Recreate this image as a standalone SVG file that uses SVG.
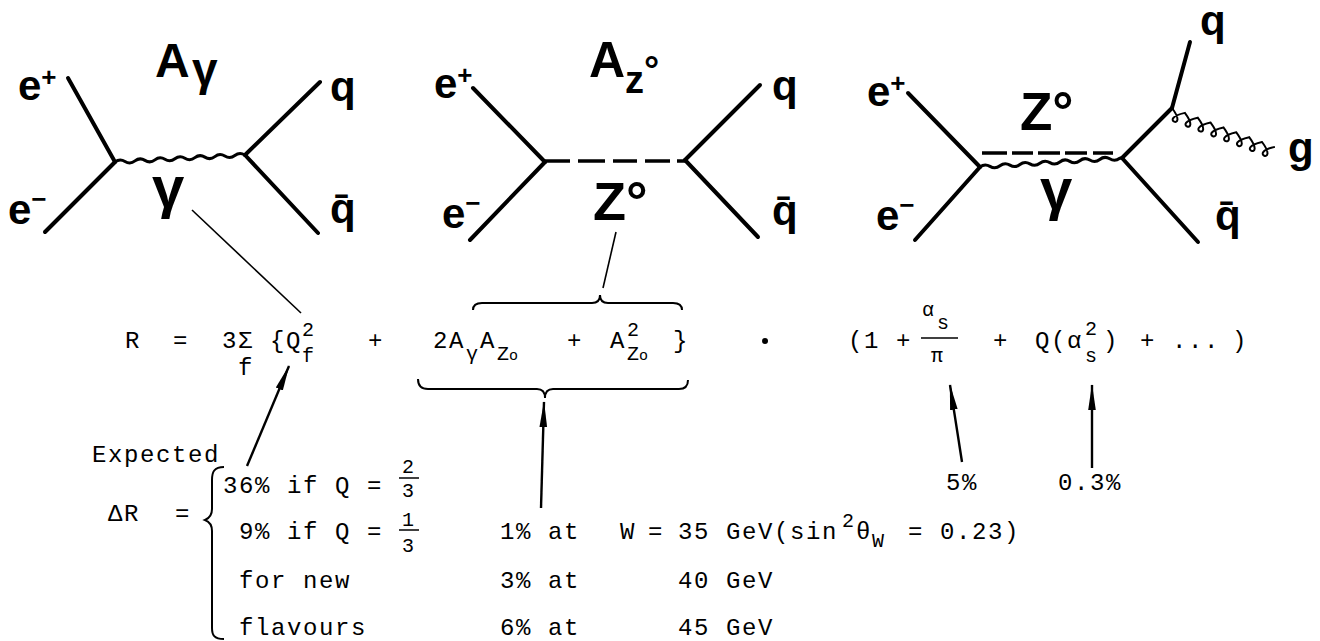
<svg xmlns="http://www.w3.org/2000/svg" width="1320" height="641" viewBox="0 0 1320 641">
<style>
.bg{fill:#fff}
.fl{stroke:#000;stroke-width:4;stroke-linecap:round;fill:none}
.wv{stroke:#000;stroke-width:3;fill:none}
.ds{stroke:#000;stroke-width:3.5;fill:none}
.ld{stroke:#000;stroke-width:1.6;fill:none}
.ar{stroke:#000;stroke-width:2.4;fill:none}
.br{stroke:#000;stroke-width:2;fill:none}
.lb{font-family:"Liberation Sans",Arial,sans-serif;font-weight:bold;fill:#000}
.tt{font-family:"Liberation Mono","Courier New",monospace;font-size:24px;letter-spacing:1.6px;fill:#000}
.sm{font-size:20px;letter-spacing:0}
</style>
<defs>
<marker id="ah" markerUnits="userSpaceOnUse" markerWidth="26" markerHeight="10" refX="25" refY="5" orient="auto">
<path d="M0,1.2 L26,5 L0,8.8 Z" fill="#000"/>
</marker>
</defs>
<rect class="bg" x="0" y="0" width="1320" height="641"/>

<g id="diagram-photon">
<line class="fl" x1="68" y1="78" x2="115" y2="162"/>
<line class="fl" x1="115" y1="162" x2="45" y2="232"/>
<line class="fl" x1="245" y1="155" x2="320" y2="82"/>
<line class="fl" x1="245" y1="155" x2="318" y2="233"/>
<path class="wv" transform="translate(115,162) rotate(-3.1)" d="M0,0 q5,-3.5 10,0 t10,0 t10,0 t10,0 t10,0 t10,0 t10,0 t10,0 t10,0 t10,0 t10,0 t10,0 t10,0"/>
<text class="lb" x="18" y="100" font-size="42">e<tspan font-size="26" dy="-14">+</tspan></text>
<text class="lb" x="8" y="224" font-size="42">e<tspan font-size="26" dy="-16">−</tspan></text>
<text class="lb" x="155" y="77" font-size="48">A</text>
<text class="lb" x="192" y="85" font-size="46">γ</text>
<text class="lb" x="152" y="207" font-size="58">γ</text>
<text class="lb" x="330" y="101" font-size="42">q</text>
<text class="lb" x="330" y="223" font-size="42">q̄</text>
</g>

<g id="diagram-z">
<line class="fl" x1="473" y1="88" x2="545" y2="162"/>
<line class="fl" x1="545" y1="162" x2="470" y2="240"/>
<line class="fl" x1="685" y1="160" x2="760" y2="85"/>
<line class="fl" x1="685" y1="160" x2="758" y2="237"/>
<g class="ds">
<line x1="545" y1="161" x2="570" y2="161"/>
<line x1="578" y1="161" x2="605" y2="161"/>
<line x1="613" y1="161" x2="637" y2="161"/>
<line x1="645" y1="161" x2="670" y2="161"/>
<line x1="677" y1="161" x2="685" y2="161"/>
</g>
<text class="lb" x="434" y="98" font-size="42">e<tspan font-size="26" dy="-14">+</tspan></text>
<text class="lb" x="442" y="228" font-size="42">e<tspan font-size="26" dy="-16">−</tspan></text>
<text class="lb" x="589" y="77" font-size="50">A<tspan font-size="38" dy="16">z</tspan><tspan font-size="38" dy="-10">°</tspan></text>
<text class="lb" x="593" y="220" font-size="54">Z°</text>
<text class="lb" x="772" y="100" font-size="42">q</text>
<text class="lb" x="772" y="225" font-size="42">q̄</text>
</g>

<g id="diagram-gluon">
<line class="fl" x1="908" y1="93" x2="980" y2="167"/>
<line class="fl" x1="980" y1="167" x2="915" y2="240"/>
<line class="fl" x1="1122" y1="158" x2="1172" y2="108"/>
<line class="fl" x1="1172" y1="108" x2="1190" y2="42"/>
<line class="fl" x1="1122" y1="158" x2="1198" y2="242"/>
<g class="ds">
<line x1="982" y1="153" x2="1007" y2="153"/>
<line x1="1012" y1="153" x2="1033" y2="153"/>
<line x1="1038" y1="153" x2="1060" y2="153"/>
<line x1="1065" y1="153" x2="1087" y2="153"/>
<line x1="1093" y1="153" x2="1113" y2="153"/>
</g>
<path class="wv" transform="translate(980,167) rotate(-3.6)" d="M0,0 q5,-3.5 10,0 t10,0 t10,0 t10,0 t10,0 t10,0 t10,0 t10,0 t10,0 t10,0 t10,0 t10,0 t10,0 t10,0 l2,0"/>
<path class="br" stroke-width="2.2" transform="translate(1172,108) rotate(20.7)" d="M0,0 c25,16 -11,16 13.75,0 c25,16 -11,16 13.75,0 c25,16 -11,16 13.75,0 c25,16 -11,16 13.75,0 c25,16 -11,16 13.75,0 c25,16 -11,16 13.75,0 c25,16 -11,16 13.75,0 c25,16 -11,16 13.75,0"/>
<text class="lb" x="867" y="106" font-size="42">e<tspan font-size="26" dy="-14">+</tspan></text>
<text class="lb" x="876" y="230" font-size="42">e<tspan font-size="26" dy="-16">−</tspan></text>
<text class="lb" x="1020" y="130" font-size="53">Z°</text>
<text class="lb" x="1040" y="209" font-size="58">γ</text>
<text class="lb" x="1200" y="35" font-size="42">q</text>
<text class="lb" x="1288" y="162" font-size="42">g</text>
<text class="lb" x="1215" y="230" font-size="42">q̄</text>
</g>

<g id="equation">
<text class="tt" x="125" y="348">R</text>
<text class="tt" x="173" y="348">=</text>
<text class="tt" x="222" y="348">3Σ</text>
<text class="tt" x="238" y="375">f</text>
<text class="tt" x="270" y="348">{Q</text>
<text class="tt sm" x="302" y="336">2</text>
<text class="tt sm" x="302" y="362">f</text>
<text class="tt" x="368" y="348">+</text>
<text class="tt" x="433" y="348">2A</text>
<text class="tt sm" x="466" y="360">γ</text>
<text class="tt" x="480" y="348">A</text>
<text class="tt sm" x="497" y="360">Z<tspan font-size="15">o</tspan></text>
<text class="tt" x="567" y="348">+</text>
<text class="tt" x="610" y="348">A</text>
<text class="tt sm" x="627" y="336">2</text>
<text class="tt sm" x="627" y="360">Z<tspan font-size="15">o</tspan></text>
<text class="tt" x="673" y="348">}</text>
<circle cx="765" cy="341" r="3" fill="#000"/>
<text class="tt" x="848" y="348">(1</text>
<text class="tt" x="896" y="348">+</text>
<text class="tt sm" x="922" y="316" font-size="22">α</text>
<text class="tt sm" x="937" y="329">s</text>
<line x1="921" y1="338" x2="958" y2="338" stroke="#000" stroke-width="1.5"/>
<text class="tt sm" x="931" y="362" font-size="22">π</text>
<text class="tt" x="993" y="348">+</text>
<text class="tt" x="1035" y="348">Q(α</text>
<text class="tt sm" x="1085" y="335">2</text>
<text class="tt sm" x="1085" y="362">s</text>
<text class="tt" x="1103" y="348">)</text>
<text class="tt" x="1140" y="348">+</text>
<text class="tt" x="1172" y="348">...</text>
<text class="tt" x="1232" y="348">)</text>
<path class="br" d="M473,310 C473,305 476,303 482,303 L592,303 C597,303 600,300 600,295 C600,300 603,303 608,303 L673,303 C679,303 682,305 682,310"/>
<path class="br" d="M418,379 C418,386 421,389 428,389 L537,389 C542,389 545,392 545,398 C545,392 548,389 553,389 L679,389 C685,389 688,386 688,380"/>
</g>

<g id="annotations">
<text class="tt" x="92" y="462">Expected</text>
<text class="tt" x="108" y="521">ΔR</text>
<text class="tt" x="175" y="521">=</text>
<path class="br" d="M224,467 C214,467 212,472 212,480 L212,509 C212,514 210,518 205,520 C210,522 212,526 212,531 L212,628 C212,635 214,639 224,639"/>
<text class="tt" x="223" y="493">36% if Q =</text>
<text class="tt sm" x="402" y="473" font-size="22">2</text>
<line x1="399" y1="478" x2="419" y2="478" stroke="#000" stroke-width="1.5"/>
<text class="tt sm" x="402" y="497" font-size="22">3</text>
<text class="tt" x="239" y="539">9% if Q =</text>
<text class="tt sm" x="402" y="526" font-size="22">1</text>
<line x1="399" y1="530" x2="419" y2="530" stroke="#000" stroke-width="1.5"/>
<text class="tt sm" x="402" y="552" font-size="22">3</text>
<text class="tt" x="239" y="588">for new</text>
<text class="tt" x="239" y="635">flavours</text>
<text class="tt" x="500" y="539">1% at</text>
<text class="tt" x="620" y="539">W</text>
<text class="tt" x="648" y="539">=</text>
<text class="tt" x="678" y="539">35 GeV(sin</text>
<text class="tt sm" x="842" y="527">2</text>
<text class="tt" x="856" y="539">θ</text>
<text class="tt sm" x="872" y="547">W</text>
<text class="tt" x="908" y="539">= 0.23)</text>
<text class="tt" x="500" y="588">3% at</text>
<text class="tt" x="678" y="588">40 GeV</text>
<text class="tt" x="500" y="635">6% at</text>
<text class="tt" x="678" y="635">45 GeV</text>
<text class="tt" x="946" y="490">5%</text>
<text class="tt" x="1058" y="490">0.3%</text>
</g>

<g id="connectors">
<line class="ld" x1="192" y1="210" x2="301" y2="313"/>
<line class="ld" x1="616" y1="232" x2="603" y2="288"/>
<line class="ar" x1="247" y1="466" x2="289" y2="366" marker-end="url(#ah)"/>
<line class="ar" x1="541" y1="508" x2="544" y2="402" marker-end="url(#ah)"/>
<line class="ar" x1="962" y1="462" x2="950" y2="385" marker-end="url(#ah)"/>
<line class="ar" x1="1092" y1="468" x2="1092" y2="385" marker-end="url(#ah)"/>
</g>
</svg>
